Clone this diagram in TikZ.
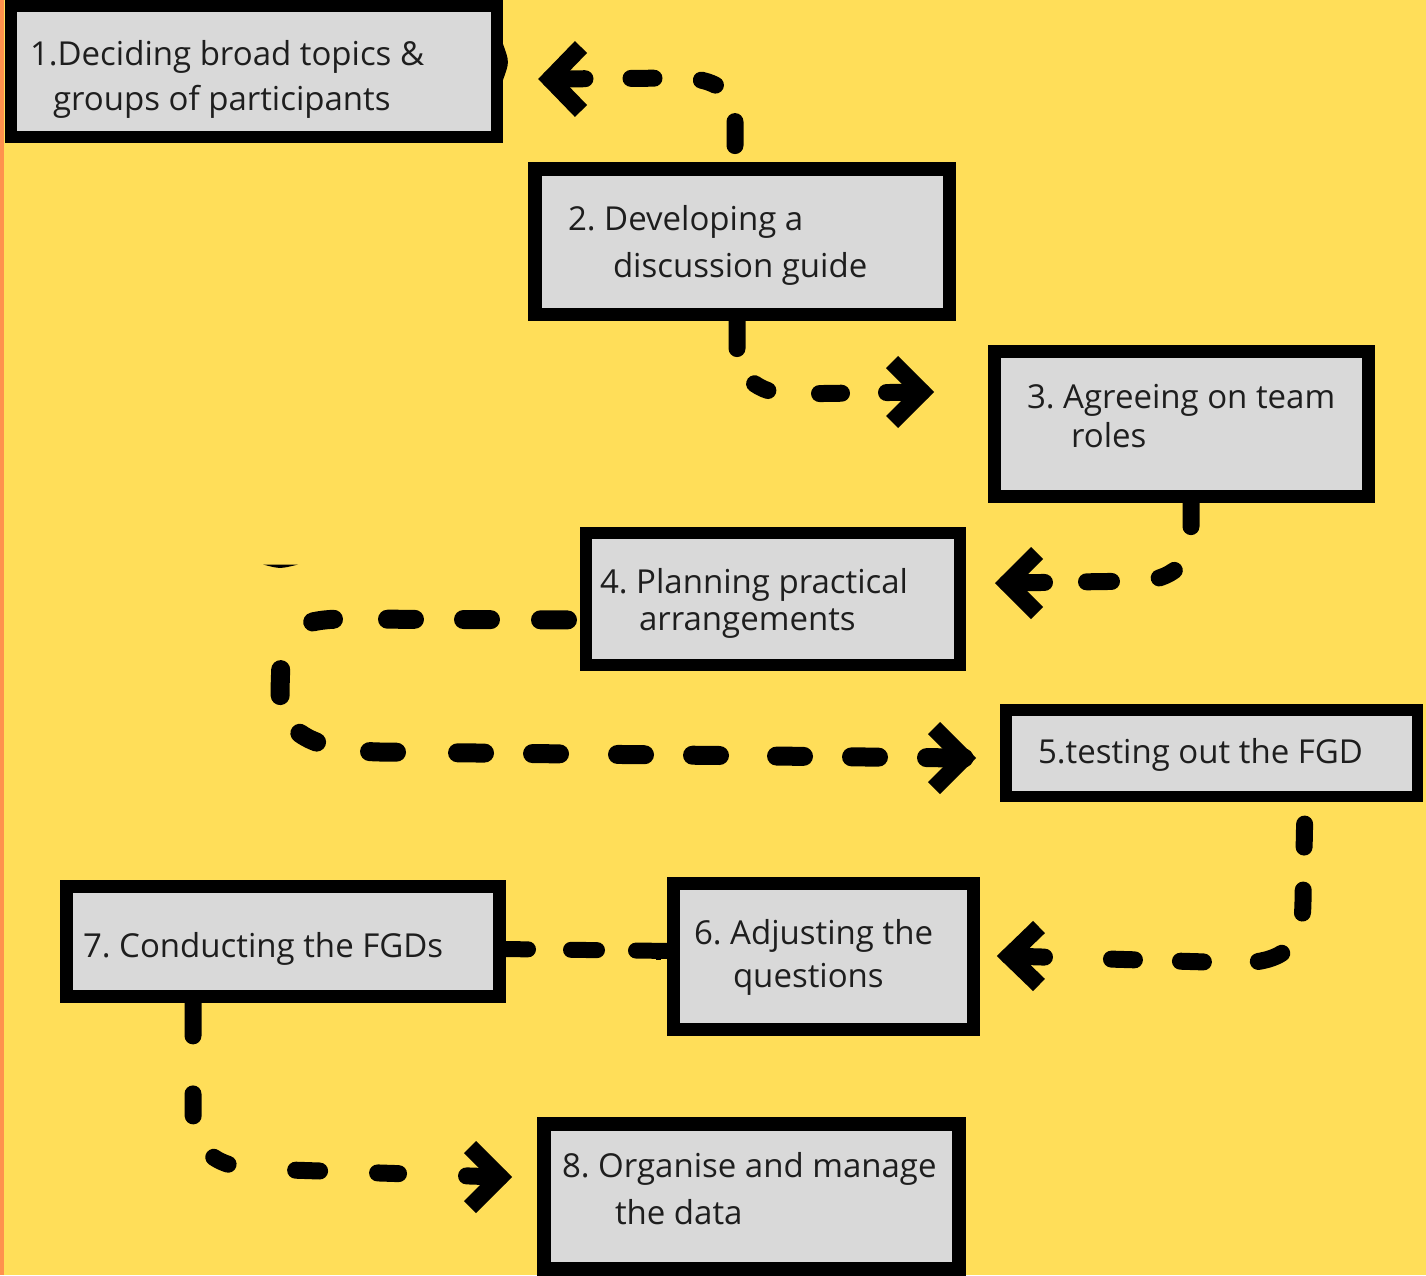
\documentclass[tikz,border=0pt]{standalone}
\usepackage{fontspec}
\setmainfont{Open Sans}
\usetikzlibrary{calc}
\definecolor{bgyellow}{RGB}{255,222,89}
\definecolor{stripor}{RGB}{255,145,77}
\definecolor{boxgray}{RGB}{217,217,217}
\definecolor{txtc}{RGB}{30,30,30}
\frenchspacing
\tikzset{
  box/.style={draw=black, fill=boxgray, rectangle, inner sep=0pt, outer sep=0pt},
  lbl/.style={anchor=base west, inner sep=0pt, outer sep=0pt, text=txtc, font=\fontsize{33}{40}\selectfont},
  conn/.style={draw=black, line width=17pt, line cap=round, line join=round},
  chev/.style={draw=black, line width=17pt, line cap=butt, line join=miter},
}
\begin{document}
\begin{tikzpicture}[x=1pt,y=-1pt]
\useasboundingbox (0,0) rectangle (1426,1275);
\fill[bgyellow] (0,0) rectangle (1426,1275);
\fill[stripor] (0,0) rectangle (4,1275);

% box positions (coordinates only, boxes drawn later on top)
\coordinate (p1) at (254,71.5);
\coordinate (p2) at (742,241.5);
\coordinate (p3) at (1181.5,424);
\coordinate (p4) at (773,599);
\coordinate (p5) at (1211.5,753);
\coordinate (p6) at (823.5,956.5);
\coordinate (p7) at (283,941.5);
\coordinate (p8) at (751.5,1196.5);

% arrow vertices
\coordinate (v1) at (550,79);
\coordinate (v2) at (922,392);
\coordinate (v3) at (1007,583);
\coordinate (v4) at (964,758);
\coordinate (v5) at (1009,956);
\coordinate (v7) at (500,1177);
\coordinate (s6) at (675,951);

% connectors (drawn from the arrow end back to the source box)
\draw[conn, dash pattern=on 35pt off 46pt on 23pt off 47.5pt on 15pt off 44pt on 24pt off 80pt]
  (v1) -- (680,78) .. controls (712,78) and (735,90) .. (735,118) -- ($(p2)+(-7,-66)$);
\draw[conn, dash pattern=on 35.5pt off 45pt on 22pt off 52pt on 15pt off 41pt on 40pt off 100pt]
  (v2) -- (790,394) .. controls (758,394) and (737,375) .. (737,350) -- ($(p2)+(-5,68)$);
\draw[conn, dash pattern=on 37.5pt off 42pt on 25pt off 48pt on 17pt off 49pt on 40pt off 100pt]
  (v3) -- (1140,581) .. controls (1172,580) and (1191,562) .. (1191,535) -- ($(p3)+(9.5,71)$);
\draw[conn, line width=19pt, dash pattern=on 37.5pt off 48pt on 27pt off 48pt on 27pt off 57pt on 27pt off 48pt on 27pt off 58pt on 27pt off 48pt on 27pt off 61pt on 27pt off 54pt on 19pt off 44pt on 26pt off 64pt on 21pt off 54pt on 27pt off 49pt on 27pt off 50pt on 27pt off 100pt]
  (v4) -- (380,752) .. controls (300,750) and (280,725) .. (280,690) -- (281,660) .. controls (282,630) and (300,620) .. (340,619) -- ($(p4)+(-188,21)$);
\draw[conn, dash pattern=on 35.5pt off 67pt on 23pt off 46pt on 23pt off 55pt on 25pt off 47pt on 23pt off 43pt on 23pt off 100pt]
  (v5) -- (1240,963) .. controls (1290,962) and (1303,940) .. (1303,900) -- ($(p5)+(93.5,52)$);
\draw[conn, line width=16pt, dash pattern=on 39pt off 39pt on 26pt off 43pt on 40pt off 50pt]
  (s6) -- ($(p7)+(217,7.5)$);
\draw[black, line width=5pt] (658.5,949) -- (658.5,960);
\draw[conn, dash pattern=on 33.5pt off 68pt on 21pt off 58pt on 24pt off 68pt on 16pt off 48pt on 22pt off 58pt on 40pt off 100pt]
  (v7) -- (260,1169) .. controls (215,1168) and (193,1150) .. (193,1110) -- ($(p7)+(-90,53.5)$);

% arrow heads
\draw[chev] ($(v1)+(31,-32)$) -- (v1) -- ($(v1)+(31,32)$);
\draw[chev] ($(v2)+(-30,-30)$) -- (v2) -- ($(v2)+(-30,30)$);
\draw[chev] ($(v3)+(30,-30)$) -- (v3) -- ($(v3)+(30,30)$);
\draw[chev] ($(v4)+(-30,-30)$) -- (v4) -- ($(v4)+(-30,30)$);
\draw[chev] ($(v5)+(30,-29)$) -- (v5) -- ($(v5)+(30,29)$);
\draw[chev] ($(v7)+(-30,-30)$) -- (v7) -- ($(v7)+(-30,30)$);

% boxes
\node[box, line width=12pt, minimum width=486pt, minimum height=131pt] (b1) at (p1) {};
\node[box, line width=13.5pt, minimum width=414.5pt, minimum height=145.5pt] (b2) at (p2) {};
\node[box, line width=13pt, minimum width=374pt, minimum height=145pt] (b3) at (p3) {};
\node[box, line width=12pt, minimum width=374pt, minimum height=132pt] (b4) at (p4) {};
\node[box, line width=11.5pt, minimum width=411.5pt, minimum height=86.5pt] (b5) at (p5) {};
\node[box, line width=13pt, minimum width=300pt, minimum height=146pt] (b6) at (p6) {};
\node[box, line width=13pt, minimum width=433pt, minimum height=110pt] (b7) at (p7) {};
\node[box, line width=14pt, minimum width=415pt, minimum height=145pt] (b8) at (p8) {};

% texts
\node[lbl] (t1a) at (30,65) {1.Deciding broad topics \&};
\node[lbl] (t1b) at (53,110) {groups of participants};
\node[lbl] (t2a) at (568,230) {2. Developing a};
\node[lbl] (t2b) at (613,277) {discussion guide};
\node[lbl] (t3a) at (1027,408) {3. Agreeing on team};
\node[lbl] (t3b) at (1071,447) {roles};
\node[lbl] (t4a) at (600,593) {4. Planning practical};
\node[lbl] (t4b) at (639,630) {arrangements};
\node[lbl] (t5) at (1038,763) {5.testing out the FGD};
\node[lbl] (t6a) at (694,944) {6. Adjusting the};
\node[lbl] (t6b) at (733,987) {questions};
\node[lbl] (t7) at (83,957) {7. Conducting the FGDs};
\node[lbl] (t8a) at (562,1177) {8. Organise and manage};
\node[lbl] (t8b) at (615,1224) {the data};

% small stray marks
\fill[black] (263,564.5) .. controls (280,564) .. (298,564.5) .. controls (280,569) .. (263,564.5) -- cycle;
\fill[black] (503,44) .. controls (509.5,62) .. (503,80) -- cycle;
\end{tikzpicture}
\end{document}
